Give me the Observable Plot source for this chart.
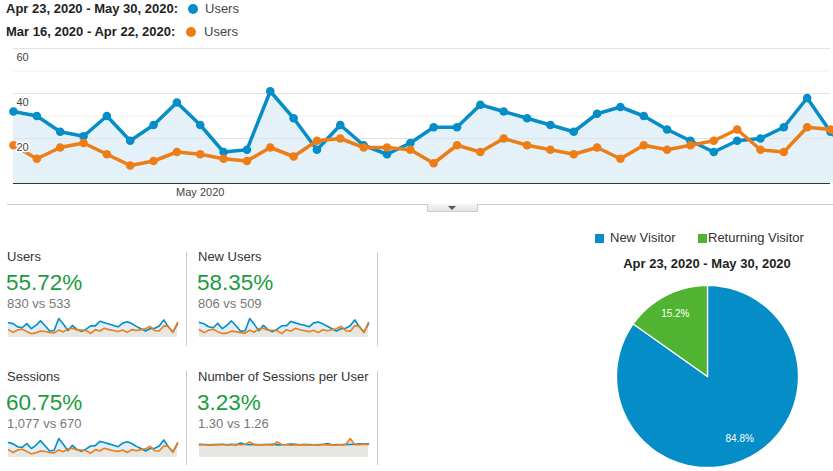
<!DOCTYPE html>
<html><head><meta charset="utf-8">
<script src="https://cdn.jsdelivr.net/npm/d3@7"></script>
<script src="https://cdn.jsdelivr.net/npm/@observablehq/plot@0.6"></script>
<style>
html,body{margin:0;padding:0;width:833px;height:471px;overflow:hidden;background:#fff;font-family:"Liberation Sans",Arial,sans-serif;}
#root{position:relative;width:833px;height:471px;overflow:hidden;}
.a{position:absolute;white-space:nowrap;}
.leg{font-size:13px;font-weight:bold;color:#222;line-height:16px;}
.lu{font-size:13px;color:#444;line-height:16px;}
.dot{width:10px;height:10px;border-radius:5px;}
.ct{font-size:13px;color:#333;line-height:16px;}
.cn{font-size:22.5px;color:#1a9c3e;line-height:26px;}
.cv{font-size:13px;color:#777;line-height:16px;}
.sep{width:1px;background:#ccc;}
.sq{width:9px;height:9px;}
</style></head><body>
<div id="root"></div>
<script>
// ---- data ----
const curLabel = "Apr 23, 2020 - May 30, 2020";
const prevLabel = "Mar 16, 2020 - Apr 22, 2020";
const metricName = "Users";
const yTicks = [20, 40, 60];
const yGrid = [10, 20, 30, 40, 50, 60];
const xTickLabel = "May 2020";

const usersCur  = [32,30,23,21,30,19,26,36,26,14,15,41,29,15,26,17,13,18,25,25,35,32,29,26,23,31,34,30,24,19,14,19,20,25,38,23,12,29];
const usersPrev = [17,11,16,18,13,8,10,14,13,11,10,16,12,19,20,16,16,15,9,17,14,20,17,15,13,16,11,17,15,17,19,24,15,14,25,24,11,32];

const newUsersCur  = [31,28,22,20,29,18,25,34,24,13,14,39,27,14,25,16,12,17,24,24,33,30,27,25,22,30,32,28,23,18,13,18,19,24,36,22,11,28];
const newUsersPrev = [16,10,15,17,12,8,9,13,12,10,9,15,11,18,19,15,15,14,8,16,13,19,16,14,12,15,10,16,14,16,18,23,14,13,24,23,10,31];

const sessionsCur  = [42,38,30,28,39,25,34,47,33,18,20,53,37,19,34,22,17,24,32,33,45,42,38,34,30,40,44,39,31,25,18,25,26,32,49,30,16,38];
const sessionsPrev = [22,14,21,23,17,10,13,18,17,14,13,21,16,24,26,21,21,19,12,22,18,26,22,19,17,21,14,22,19,22,24,31,19,18,32,31,14,41];

const spuCur  = [1.31,1.30,1.26,1.29,1.28,1.32,1.27,1.33,1.25,1.45,1.30,1.28,1.31,1.27,1.29,1.30,1.32,1.26,1.28,1.30,1.35,1.31,1.27,1.29,1.30,1.28,1.26,1.30,1.40,1.27,1.29,1.28,1.31,1.30,1.33,1.36,1.34,1.38];
const spuPrev = [1.29,1.27,1.24,1.28,1.31,1.30,1.25,1.27,1.33,1.27,1.30,1.55,1.28,1.26,1.27,1.29,1.24,1.55,1.30,1.28,1.23,1.27,1.26,1.30,1.25,1.27,1.29,1.31,1.26,1.28,1.25,1.30,1.28,1.90,1.27,1.29,1.33,1.30];

const cardTitles = ["Users", "New Users", "Sessions", "Number of Sessions per User"];
const cardChanges = ["55.72%", "58.35%", "60.75%", "3.23%"];
const cardCompare = ["830 vs 533", "806 vs 509", "1,077 vs 670", "1.30 vs 1.26"];

const pieNames = ["New Visitor", "Returning Visitor"];
const pieValues = [84.8, 15.2];
const pieColors = ["#058dc7", "#50b432"];

const BLUE = "#058dc7", ORANGE = "#ed7e17";
const root = document.getElementById("root");
function add(html, cls, style) {
  const d = document.createElement("div");
  d.className = "a " + (cls || "");
  d.style.cssText = style;
  d.innerHTML = html;
  root.appendChild(d);
  return d;
}
function place(node, left, top) {
  const w = document.createElement("div");
  w.className = "a";
  w.style.left = left + "px"; w.style.top = top + "px";
  w.appendChild(node);
  root.appendChild(w);
}

// ---- legend ----
add(curLabel + ":", "leg", "left:6px;top:1px;");
add("", "dot", `left:188px;top:4px;background:${BLUE};`);
add(metricName, "lu", "left:205px;top:1px;");
add(prevLabel + ":", "leg", "left:6px;top:24px;");
add("", "dot", `left:186px;top:27px;background:${ORANGE};`);
add(metricName, "lu", "left:204px;top:24px;");

// ---- main chart ----
const days = d3.utcDay.range(new Date(Date.UTC(2020, 3, 23)), new Date(Date.UTC(2020, 4, 31)));
const main = days.map((d, i) => ({date: d, cur: usersCur[i], prev: usersPrev[i]}));
const mainChart = Plot.plot({
  width: 833, height: 170, marginTop: 8, marginBottom: 27, marginLeft: 13, marginRight: 3,
  style: {overflow: "hidden", fontFamily: "Liberation Sans, Arial, sans-serif", fontSize: "11px", color: "#444", background: "transparent"},
  x: {type: "utc", domain: [days[0], days[35]]},
  y: {domain: [0, 60]},
  marks: [
    Plot.areaY(main, {x: "date", y: "cur", fill: "#e4f1f9"}),
    Plot.ruleY(yGrid, {stroke: d => (d % 20 === 0 ? "#e2e2e2" : "#efefef"), strokeWidth: 1}),
    Plot.ruleY([0], {stroke: "#333", strokeWidth: 1.2}),
    Plot.lineY(main, {x: "date", y: "cur", stroke: BLUE, strokeWidth: 3.5}),
    Plot.dot(main, {x: "date", y: "cur", fill: BLUE, r: 4.3}),
    Plot.lineY(main, {x: "date", y: "prev", stroke: ORANGE, strokeWidth: 3.5}),
    Plot.dot(main, {x: "date", y: "prev", fill: ORANGE, r: 4.3}),
    Plot.axisY(yTicks, {anchor: "left", tickSize: 0, tickPadding: -3, textAnchor: "start", dy: 9, label: null,
      textStroke: "white", textStrokeWidth: 3, fill: "#444"}),
    Plot.axisX([new Date(Date.UTC(2020, 4, 1))], {tickSize: 0, tickPadding: 5, tickFormat: () => xTickLabel, label: null, fill: "#444"})
  ]
});
place(mainChart, 0, 40);

// tab chrome
add("", "", "left:7px;top:204px;width:826px;height:1px;background:#ccc;");
add("", "", "left:427px;top:204px;width:49px;height:7px;border:1px solid #ccc;border-top:none;background:linear-gradient(#f6f6f6,#e4e4e4);");
add("", "", "left:448px;top:206px;width:0;height:0;border-left:4px solid transparent;border-right:4px solid transparent;border-top:4px solid #555;");

// ---- cards ----
function spark(cur, prev, ymax) {
  const data = cur.map((c, i) => ({i, c, p: prev[i]}));
  return Plot.plot({
    width: 169, height: 20, marginTop: 1, marginBottom: 0, marginLeft: 0, marginRight: 0,
    style: {overflow: "visible", background: "transparent"},
    x: {domain: [0, cur.length - 1], axis: null},
    y: {domain: [0, ymax], axis: null},
    marks: [
      Plot.areaY(data, {x: "i", y: "c", fill: "#dfeef8"}),
      Plot.areaY(data, {x: "i", y: "p", fill: "#e6e6e2"}),
      Plot.lineY(data, {x: "i", y: "c", stroke: BLUE, strokeWidth: 1.6}),
      Plot.lineY(data, {x: "i", y: "p", stroke: ORANGE, strokeWidth: 1.6})
    ]
  });
}
const cardPos = [[7, 0], [198, 0], [7, 120], [198, 120]];
const sparkSets = [[usersCur, usersPrev, 41], [newUsersCur, newUsersPrev, 39], [sessionsCur, sessionsPrev, 53], [spuCur, spuPrev, 1.9]];
cardPos.forEach(([x, dy], k) => {
  add(cardTitles[k], "ct", `left:${x}px;top:${249 + dy}px;`);
  add(cardChanges[k], "cn", `left:${x - 1}px;top:${270 + dy}px;`);
  add(cardCompare[k], "cv", `left:${x}px;top:${296 + dy}px;`);
  place(spark(...sparkSets[k]), x + 1, 317 + dy);
});
add("", "sep", "left:186px;top:252px;height:94px;");
add("", "sep", "left:377px;top:252px;height:94px;");
add("", "sep", "left:186px;top:371px;height:94px;");
add("", "sep", "left:377px;top:371px;height:94px;");

// ---- pie ----
add("", "sq", `left:595px;top:234px;background:${pieColors[0]};`);
add(pieNames[0], "lu", "left:610px;top:230px;color:#333;");
add("", "sq", `left:698px;top:234px;background:${pieColors[1]};`);
add(pieNames[1], "lu", "left:708px;top:230px;color:#333;");
add(curLabel, "leg", "left:607px;top:256px;width:200px;text-align:center;");

const arcs = d3.pie().sort(null).value(d => d.value)(pieNames.map((n, i) => ({name: n, value: pieValues[i]})));
const piePts = arcs.flatMap(a => {
  const out = [{k: a.data.name, x: 0, y: 0}];
  const n = 160;
  for (let j = 0; j <= n; j++) {
    const t = a.startAngle + (a.endAngle - a.startAngle) * j / n;
    out.push({k: a.data.name, x: Math.sin(t), y: Math.cos(t)});
  }
  out.push({k: a.data.name, x: 0, y: 0});
  return out;
});
const pieLabels = arcs.map(a => {
  const m = (a.startAngle + a.endAngle) / 2;
  return {x: Math.sin(m) * 0.77, y: Math.cos(m) * 0.77, t: a.data.value.toFixed(1) + "%"};
});
const pie = Plot.plot({
  width: 182, height: 182, margin: 0,
  style: {overflow: "visible", background: "transparent", fontFamily: "Liberation Sans, Arial, sans-serif"},
  x: {domain: [-1, 1], axis: null},
  y: {domain: [-1, 1], axis: null},
  color: {domain: pieNames, range: pieColors},
  marks: [
    Plot.line(piePts, {x: "x", y: "y", z: "k", fill: "k", stroke: "white", strokeWidth: 1.3}),
    Plot.text(pieLabels, {x: "x", y: "y", text: "t", fill: "white", fontSize: 10})
  ]
});
place(pie, 616, 285);
</script>
</body></html>
